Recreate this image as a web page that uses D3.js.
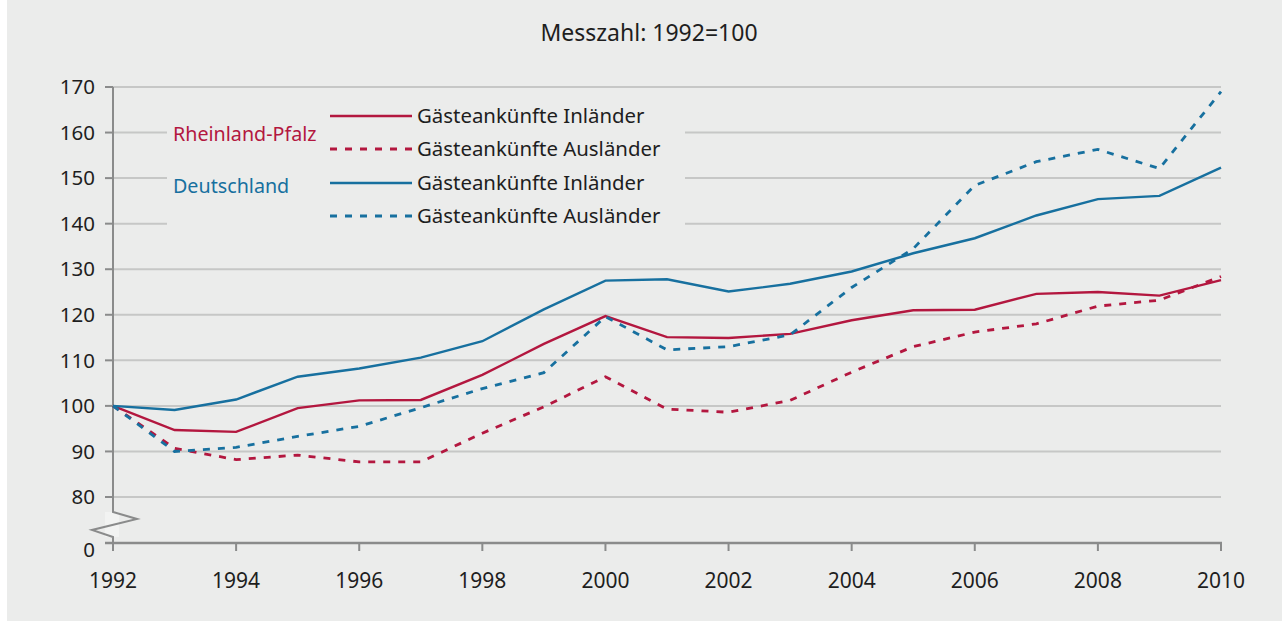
<!DOCTYPE html>
<html>
<head>
<meta charset="utf-8">
<script src="https://cdn.jsdelivr.net/npm/d3@7"></script>
<style>
  body { margin: 0; background: #fff; }
  svg { display: block; font-family: "Noto Sans", "Open Sans", sans-serif; }
</style>
</head>
<body>
<svg id="chart"></svg>
<script>
// data: Messzahl 1992 = 100
const years = d3.range(1992, 2011);
const rpInland = [100, 94.7, 94.3, 99.5, 101.2, 101.3, 106.8, 113.6, 119.7, 115.1, 114.9, 115.8, 118.8, 121.0, 121.1, 124.6, 125.0, 124.2, 127.6];
const rpAusland = [100, 90.7, 88.2, 89.2, 87.7, 87.7, 94.0, 99.8, 106.4, 99.3, 98.6, 101.2, 107.4, 113.0, 116.2, 118.0, 121.9, 123.2, 128.4];
const deInland = [100, 99.1, 101.4, 106.4, 108.2, 110.6, 114.2, 121.2, 127.5, 127.8, 125.1, 126.8, 129.5, 133.5, 136.8, 141.8, 145.4, 146.1, 152.3];
const deAusland = [100, 90.0, 90.9, 93.3, 95.5, 99.6, 103.8, 107.3, 119.6, 112.3, 113.0, 115.6, 126.0, 134.5, 148.4, 153.6, 156.3, 152.1, 169.0];
const yTicks = [80, 90, 100, 110, 120, 130, 140, 150, 160, 170];
const xTicks = [1992, 1994, 1996, 1998, 2000, 2002, 2004, 2006, 2008, 2010];

const red = "#b3173f", blue = "#17709f";
const series = [
  { values: rpInland, color: red, dash: null },
  { values: rpAusland, color: red, dash: "7,8" },
  { values: deInland, color: blue, dash: null },
  { values: deAusland, color: blue, dash: "7,8" }
];

const W = 1282, H = 621;
const svg = d3.select("#chart").attr("width", W).attr("height", H);

svg.append("rect").attr("x", 7).attr("y", 0).attr("width", W - 7).attr("height", H).attr("fill", "#ebeceb");

const x = d3.scaleLinear().domain([1992, 2010]).range([113, 1221]);
const y = d3.scaleLinear().domain([80, 170]).range([497, 87]);
const yBase = 543;

svg.append("text").attr("x", 649).attr("y", 41).attr("text-anchor", "middle")
  .attr("font-size", 23).attr("fill", "#1e1e1e").text("Messzahl: 1992=100");

// gridlines
svg.append("g").selectAll("line").data(yTicks).join("line")
  .attr("x1", 113).attr("x2", 1221)
  .attr("y1", d => y(d)).attr("y2", d => y(d))
  .attr("stroke", "#c6c7c6").attr("stroke-width", 2);

// legend box masks gridlines
svg.append("rect").attr("x", 167).attr("y", 100).attr("width", 518).attr("height", 135).attr("fill", "#ebeceb");

// y tick labels
const axisColor = "#8a8b8b";
svg.append("g").selectAll("text").data(yTicks).join("text")
  .attr("x", 95).attr("y", d => y(d)).attr("dy", "0.35em")
  .attr("text-anchor", "end").attr("font-size", 20.5).attr("fill", "#1e1e1e")
  .text(d => d);
svg.append("text").attr("x", 95).attr("y", 550).attr("dy", "0.35em")
  .attr("text-anchor", "end").attr("font-size", 20.5).attr("fill", "#1e1e1e").text("0");

// y ticks
svg.append("g").selectAll("line").data(yTicks).join("line")
  .attr("x1", 105).attr("x2", 113)
  .attr("y1", d => y(d)).attr("y2", d => y(d))
  .attr("stroke", axisColor).attr("stroke-width", 2);

// y axis with break
svg.append("rect").attr("x", 105).attr("y", 512).attr("width", 14).attr("height", 25).attr("fill", "#f2f3f2");
svg.append("path")
  .attr("d", `M113,${y(170)}V512L137,519L92,530L113,537V${yBase}`)
  .attr("fill", "none").attr("stroke", axisColor).attr("stroke-width", 2);

// x axis
svg.append("line").attr("x1", 105).attr("x2", 1222).attr("y1", yBase).attr("y2", yBase)
  .attr("stroke", axisColor).attr("stroke-width", 2.5);
svg.append("g").selectAll("line").data(xTicks).join("line")
  .attr("x1", d => x(d)).attr("x2", d => x(d))
  .attr("y1", yBase).attr("y2", 551)
  .attr("stroke", axisColor).attr("stroke-width", 2);
svg.append("g").selectAll("text").data(xTicks).join("text")
  .attr("x", d => x(d)).attr("y", 588).attr("text-anchor", "middle")
  .attr("font-size", 21).attr("fill", "#1e1e1e").text(d => d);

// lines
const line = d3.line().x((d, i) => x(years[i])).y(d => y(d));
svg.append("g").selectAll("path").data(series).join("path")
  .attr("d", d => line(d.values))
  .attr("fill", "none")
  .attr("stroke", d => d.color)
  .attr("stroke-width", d => d.dash ? 2.8 : 2.4)
  .attr("stroke-dasharray", d => d.dash);

// legend
const legendRows = [
  { color: red, dash: null, label: "Gästeankünfte Inländer" },
  { color: red, dash: "7,8", label: "Gästeankünfte Ausländer" },
  { color: blue, dash: null, label: "Gästeankünfte Inländer" },
  { color: blue, dash: "7,8", label: "Gästeankünfte Ausländer" }
];
const ly = [116, 149, 183, 216];
const lg = svg.append("g");
lg.selectAll("line").data(legendRows).join("line")
  .attr("x1", 412).attr("x2", 330)
  .attr("y1", (d, i) => ly[i]).attr("y2", (d, i) => ly[i])
  .attr("stroke", d => d.color).attr("stroke-width", d => d.dash ? 2.8 : 2.4)
  .attr("stroke-dasharray", d => d.dash);
lg.selectAll("text").data(legendRows).join("text")
  .attr("x", 417).attr("y", (d, i) => ly[i]).attr("dy", "0.35em")
  .attr("font-size", 20.4).attr("fill", "#1e1e1e").text(d => d.label);

svg.append("text").attr("x", 173).attr("y", 134).attr("dy", "0.35em")
  .attr("font-size", 19.7).attr("fill", red).text("Rheinland-Pfalz");
svg.append("text").attr("x", 173).attr("y", 186).attr("dy", "0.35em")
  .attr("font-size", 19.7).attr("fill", blue).text("Deutschland");
</script>
</body>
</html>
